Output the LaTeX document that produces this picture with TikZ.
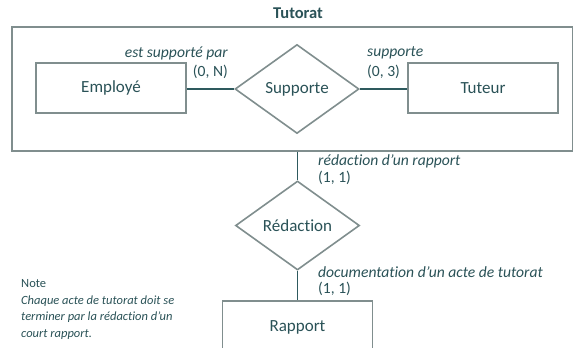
\documentclass[tikz,border=0pt]{standalone}
\usepackage{fontspec}
\setmainfont{Carlito}[RawFeature=-liga]
\usetikzlibrary{shapes.geometric}
\definecolor{inktext}{HTML}{2A5257}
\definecolor{boxline}{HTML}{808E8E}
\definecolor{linkline}{HTML}{2E5A5E}
\tikzset{
  x=1pt, y=1pt,
  entity/.style={draw=boxline, line width=1.6pt, fill=white, text=inktext,
    minimum width=150pt, minimum height=50pt, inner sep=0pt,
    font=\fontsize{17}{20}\selectfont},
  relation/.style={draw=boxline, line width=1.6pt, fill=white, text=inktext,
    shape=diamond, minimum width=124pt, minimum height=89pt, inner sep=0pt,
    font=\fontsize{17}{20}\selectfont},
  link/.style={draw=linkline, line width=1.4pt},
  role/.style={text=inktext, inner sep=0pt, font=\fontsize{15.6}{18}\selectfont\itshape},
  card/.style={text=inktext, inner sep=0pt, font=\fontsize{15.6}{18}\selectfont},
  group/.style={draw=boxline, line width=1.6pt},
}
\begin{document}
\begin{tikzpicture}
\useasboundingbox (0,0) rectangle (573,-348);

% Tutorat grouping frame
\node[text=inktext, inner sep=0pt, font=\fontsize{16.5}{19}\selectfont\bfseries] (title) at (298,-13) {Tutorat};
\node[group, minimum width=561pt, minimum height=124pt, inner sep=0pt, anchor=north west] (frame) at (11,-26) {};

% entities and relations
\node[entity] (employe) at (111,-88) {Employé};
\node[relation] (supporte) at (297,-89) {Supporte};
\node[entity] (tuteur) at (483,-88) {Tuteur};
\node[relation] (redaction) at (297.5,-225.5) {Rédaction};
\node[entity, minimum height=52pt] (rapport) at (297.5,-327) {Rapport};

% connectors
\draw[link] (employe.east |- supporte.west) -- (supporte.west);
\draw[link] (supporte.east) -- (tuteur.west |- supporte.east);
\draw[link] (frame.south -| redaction.north) -- (redaction.north);
\draw[link] (redaction.south) -- (rapport.north);

% role names and cardinalities
\node[role, anchor=east] (r1) at (228,-53) {est supporté par};
\node[card, anchor=east] (c1) at (228,-72) {(0, N)};
\node[role, anchor=west] (r2) at (367,-53) {supporte};
\node[card, anchor=west] (c2) at (367,-72) {(0, 3)};
\node[role, anchor=west] (r3) at (318,-161) {rédaction d’un rapport};
\node[card, anchor=west] (c3) at (318,-178) {(1, 1)};
\node[role, anchor=west] (r4) at (318,-272) {documentation d’un acte de tutorat};
\node[card, anchor=west] (c4) at (318,-289) {(1, 1)};

% note
\node[text=inktext, inner sep=0pt, anchor=north west, align=left,
  font=\fontsize{12.5}{16.8}\selectfont] (note) at (21,-279)
  {Note\\ \itshape Chaque acte de tutorat doit se\\ \itshape terminer par la rédaction d’un\\ \itshape court rapport.};
\end{tikzpicture}
\end{document}
